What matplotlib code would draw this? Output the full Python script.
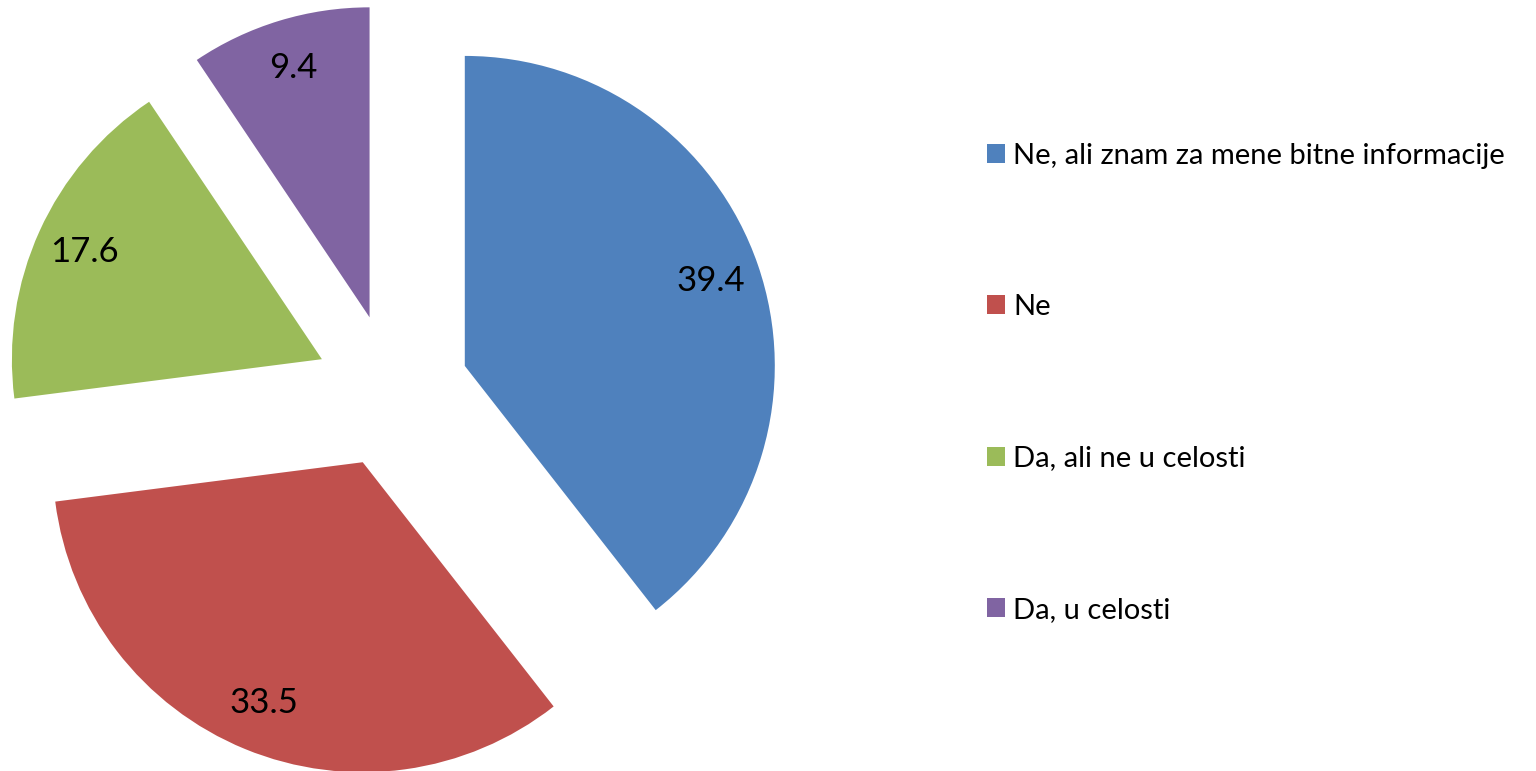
import matplotlib.pyplot as plt

# podaci
kategorije = ['Ne, ali znam za mene bitne informacije', 'Ne',
              'Da, ali ne u celosti', 'Da, u celosti']
vrednosti = [39.4, 33.5, 17.6, 9.4]
boje = ['#4F81BD', '#C0504D', '#9BBB59', '#8064A2']

plt.rcParams['font.family'] = ['Lato', 'DejaVu Sans']

fig = plt.figure(figsize=(15.36, 7.71), dpi=100)
ax = fig.add_axes([0, 0, 1, 1])
ax.axis('off')

# explode je u jedinicama podataka (px), poluprecnik 310
wedges, tekst = ax.pie(vrednosti, colors=boje, startangle=90, counterclock=False,
                       center=(392, 380), radius=310, explode=[77] * 4,
                       labels=[f'{v:.1f}' for v in vrednosti], labeldistance=0.84,
                       textprops={'fontsize': 25, 'color': 'black',
                                  'ha': 'center', 'va': 'center'})
ax.set_xlim(0, 1536)
ax.set_ylim(0, 771)
ax.set_aspect('equal')

ax.legend(wedges, kategorije, loc='upper left', bbox_to_anchor=(972 / 1536, 1 - 128 / 771),
          frameon=False, fontsize=21, handlelength=0.62, handleheight=0.62,
          handletextpad=0.3, labelspacing=4.3, borderpad=0)

plt.savefig('out.png', dpi=100)
